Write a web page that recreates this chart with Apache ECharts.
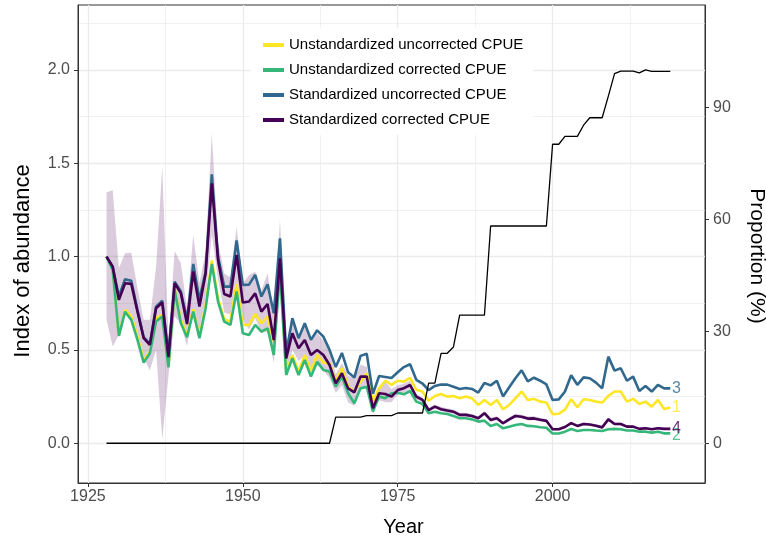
<!DOCTYPE html>
<html><head><meta charset="utf-8">
<script src="https://cdn.jsdelivr.net/npm/echarts@6/dist/echarts.min.js"></script>
<style>html,body{margin:0;padding:0;background:#fff}#c{width:766px;height:540px}</style>
</head><body><div id="c"></div>
<script>
const years = [1928,1929,
 1930,1931,1932,1933,1934,1935,1936,1937,1938,1939,
 1940,1941,1942,1943,1944,1945,1946,1947,1948,1949,
 1950,1951,1952,1953,1954,1955,1956,1957,1958,1959,
 1960,1961,1962,1963,1964,1965,1966,1967,1968,1969,
 1970,1971,1972,1973,1974,1975,1976,1977,1978,1979,
 1980,1981,1982,1983,1984,1985,1986,1987,1988,1989,
 1990,1991,1992,1993,1994,1995,1996,1997,1998,1999,
 2000,2001,2002,2003,2004,2005,2006,2007,2008,2009,
 2010,2011,2012,2013,2014,2015,2016,2017,2018,2019];

const unstdUncorr = [1.0,0.935,
 0.58,0.714,0.679,0.571,0.446,0.49,0.67,0.688,0.41,0.83,
 0.66,0.58,0.718,0.571,0.741,0.979,0.777,0.664,0.652,0.854,
 0.634,0.634,0.693,0.643,0.679,0.545,0.96,0.378,0.473,0.384,
 0.473,0.384,0.473,0.432,0.428,0.33,0.402,0.303,0.277,0.33,
 0.375,0.223,0.294,0.335,0.313,0.335,0.33,0.35,0.286,0.277,
 0.228,0.253,0.264,0.25,0.253,0.241,0.25,0.241,0.205,0.232,
 0.205,0.232,0.182,0.205,0.241,0.277,0.232,0.238,0.223,0.218,
 0.156,0.158,0.18,0.236,0.193,0.236,0.232,0.223,0.218,0.254,
 0.277,0.277,0.223,0.238,0.21,0.223,0.196,0.232,0.184,0.191];

const unstdCorr = [1.0,0.929,
 0.575,0.705,0.661,0.554,0.432,0.482,0.652,0.679,0.407,0.821,
 0.643,0.568,0.705,0.563,0.723,0.961,0.759,0.652,0.634,0.813,
 0.589,0.58,0.634,0.598,0.616,0.473,0.93,0.366,0.455,0.366,
 0.446,0.357,0.437,0.393,0.384,0.303,0.357,0.268,0.214,0.294,
 0.303,0.17,0.25,0.241,0.268,0.27,0.262,0.28,0.223,0.21,
 0.161,0.169,0.161,0.157,0.146,0.134,0.134,0.128,0.116,0.121,
 0.093,0.103,0.08,0.089,0.098,0.103,0.093,0.091,0.086,0.083,
 0.052,0.052,0.062,0.076,0.066,0.071,0.071,0.068,0.066,0.075,
 0.077,0.075,0.068,0.068,0.062,0.062,0.057,0.062,0.053,0.053];

const stdUncorr = [1.0,0.946,
 0.786,0.879,0.871,0.714,0.568,0.532,0.732,0.764,0.473,0.866,
 0.813,0.661,0.961,0.768,0.92,1.441,1.0,0.839,0.839,1.086,
 0.848,0.85,0.902,0.786,0.852,0.696,1.098,0.482,0.67,0.563,
 0.643,0.554,0.605,0.571,0.5,0.408,0.484,0.38,0.352,0.468,
 0.48,0.265,0.36,0.355,0.35,0.38,0.408,0.423,0.34,0.32,
 0.285,0.307,0.315,0.314,0.303,0.291,0.296,0.291,0.271,0.323,
 0.31,0.335,0.251,0.3,0.348,0.391,0.332,0.351,0.335,0.315,
 0.232,0.235,0.277,0.364,0.313,0.353,0.348,0.325,0.294,0.464,
 0.389,0.402,0.335,0.357,0.28,0.307,0.277,0.313,0.294,0.294];

const stdCorr = [1.0,0.946,
 0.768,0.857,0.854,0.705,0.563,0.527,0.723,0.754,0.461,0.857,
 0.804,0.639,0.92,0.732,0.91,1.393,0.982,0.8,0.786,1.009,
 0.754,0.759,0.803,0.705,0.746,0.553,0.991,0.455,0.589,0.509,
 0.553,0.473,0.5,0.473,0.419,0.321,0.375,0.294,0.273,0.357,
 0.357,0.187,0.268,0.264,0.25,0.285,0.295,0.312,0.25,0.232,
 0.178,0.196,0.182,0.175,0.169,0.152,0.152,0.146,0.134,0.161,
 0.125,0.134,0.107,0.128,0.146,0.142,0.132,0.133,0.126,0.12,
 0.075,0.075,0.087,0.108,0.093,0.103,0.1,0.094,0.085,0.128,
 0.103,0.103,0.089,0.089,0.077,0.08,0.075,0.08,0.077,0.077];

const ciLower = [0.661,0.518,
 0.58,0.7,0.69,0.58,0.46,0.39,0.5,0.02,0.36,0.68,
 0.64,0.52,0.72,0.6,0.78,1.12,0.88,0.7,0.69,0.86,
 0.66,0.61,0.67,0.59,0.6,0.43,0.82,0.38,0.5,0.44,
 0.47,0.39,0.42,0.39,0.35,0.27,0.31,0.22,0.2,0.3,
 0.31,0.16,0.23,0.22,0.22,0.26,0.27,0.29,0.235,0.22,
 0.168,0.185,0.171,0.164,0.158,0.142,0.142,0.136,0.124,0.15,
 0.115,0.124,0.098,0.118,0.136,0.132,0.122,0.123,0.117,0.111,
 0.068,0.068,0.08,0.1,0.086,0.096,0.093,0.087,0.078,0.119,
 0.096,0.096,0.082,0.082,0.071,0.074,0.069,0.074,0.071,0.071];

const ciUpper = [1.343,1.357,
 0.938,1.018,1.021,0.83,0.661,0.661,0.946,1.48,0.56,1.03,
 0.964,0.72,1.116,0.857,1.027,1.66,1.08,0.91,0.89,1.16,
 0.857,0.9,0.92,0.82,0.91,0.7,1.196,0.53,0.66,0.57,
 0.63,0.55,0.59,0.55,0.49,0.37,0.43,0.36,0.35,0.42,
 0.41,0.21,0.3,0.33,0.29,0.31,0.32,0.335,0.265,0.245,
 0.189,0.208,0.194,0.187,0.181,0.163,0.163,0.157,0.145,0.173,
 0.136,0.145,0.117,0.139,0.157,0.153,0.143,0.144,0.136,0.13,
 0.083,0.083,0.095,0.117,0.101,0.111,0.108,0.102,0.093,0.138,
 0.111,0.111,0.097,0.097,0.084,0.087,0.082,0.087,0.084,0.084];

const proportion = [0,0,
 0,0,0,0,0,0,0,0,0,0,
 0,0,0,0,0,0,0,0,0,0,
 0,0,0,0,0,0,0,0,0,0,
 0,0,0,0,0,7.0,7.0,7.0,7.0,7.0,
 7.4,7.4,7.4,7.4,7.4,8.1,8.1,8.1,8.1,8.1,
 16.1,16.1,24.1,24.1,25.8,34.3,34.3,34.3,34.3,34.3,
 58.2,58.2,58.2,58.2,58.2,58.2,58.2,58.2,58.2,58.2,
 80.1,80.1,82.2,82.2,82.2,85.2,87.2,87.2,87.2,93.0,
 99.0,99.7,99.7,99.7,99.2,100,99.6,99.6,99.6,99.6];

const seriesNames = ['Unstandardized uncorrected CPUE','Unstandardized corrected CPUE','Standardized uncorrected CPUE','Standardized corrected CPUE'];
const endLabelTexts = ['1','2','3','4'];
const endLabelX = 2020;
const xTicks = [1925,1950,1975,2000];
const xMinorTicks = [1937.5,1962.5,1987.5,2012.5];
const yTicks = [0,0.5,1.0,1.5,2.0];
const yMinorTicks = [0.25,0.75,1.25,1.75,2.25];
const pTicks = [0,30,60,90];

const colors = ['#FDE725','#35B779','#31688E','#440154'];
const FONT = "'Liberation Sans', Arial, Helvetica, sans-serif";
const X_MIN = 1923.4, X_MAX = 2024.6, Y_MIN = -0.213, Y_MAX = 2.348, P_SCALE = 50;

const seriesData = [unstdUncorr, unstdCorr, stdUncorr, stdCorr];
const pair = (arr) => years.map((y, i) => [y, arr[i]]);

const chart = echarts.init(document.getElementById('c'), null, {renderer: 'canvas'});

const lineSeries = seriesData.map((arr, k) => ({
  type: 'line', name: seriesNames[k], data: pair(arr),
  xAxisIndex: 0, yAxisIndex: 0,
  showSymbol: false, symbol: 'none',
  lineStyle: {color: colors[k], width: 2.6},
  itemStyle: {color: colors[k]},
  z: 3 + k, animation: false, silent: true
}));

const tickFont = {color: '#4d4d4d', fontSize: 16, fontFamily: FONT};

const option = {
  animation: false,
  backgroundColor: '#fff',
  grid: {left: 78, right: 61, top: 5, bottom: 57, show: true, borderColor: '#333', borderWidth: 1,
         backgroundColor: '#fff', containLabel: false, outerBoundsMode: 'none'},
  legend: {
    orient: 'vertical', left: 250, top: 28, padding: [8, 10, 6, 13],
    backgroundColor: '#fff', icon: 'rect', itemWidth: 21, itemHeight: 4, itemGap: 7,
    textStyle: {fontSize: 15, lineHeight: 18, color: '#000', fontFamily: FONT},
    data: seriesNames, selectedMode: false
  },
  xAxis: [
    {type: 'value', position: 'bottom', min: X_MIN, max: X_MAX,
     axisLine: {show: true, onZero: false, lineStyle: {color: '#333', width: 1}},
     axisTick: {show: true, customValues: xTicks, length: 4, lineStyle: {color: '#333'}},
     axisLabel: Object.assign({show: true, customValues: xTicks, margin: 6, formatter: v => String(v)}, tickFont),
     splitLine: {show: true, lineStyle: {color: '#ebebeb', width: 1.3}},
     name: 'Year', nameLocation: 'middle', nameGap: 34,
     nameTextStyle: {fontSize: 20, color: '#000', fontFamily: FONT, padding: [0, 0, 0, 24]}},
    {type: 'value', position: 'bottom', min: X_MIN, max: X_MAX,
     axisLine: {show: false}, axisTick: {show: false, customValues: xMinorTicks},
     axisLabel: {show: false, customValues: xMinorTicks},
     splitLine: {show: true, lineStyle: {color: '#ebebeb', width: 0.7}}}
  ],
  yAxis: [
    {type: 'value', position: 'left', min: Y_MIN, max: Y_MAX,
     axisLine: {show: true, onZero: false, lineStyle: {color: '#333', width: 1}},
     axisTick: {show: true, customValues: yTicks, length: 4, lineStyle: {color: '#333'}},
     axisLabel: Object.assign({show: true, customValues: yTicks, margin: 8, formatter: v => v.toFixed(1)}, tickFont),
     splitLine: {show: true, lineStyle: {color: '#ebebeb', width: 1.3}},
     name: 'Index of abundance', nameLocation: 'middle', nameGap: 44, nameRotate: 90,
     nameTextStyle: {fontSize: 22, color: '#000', fontFamily: FONT, padding: [0, 34, 0, 0]}},
    {type: 'value', position: 'right', min: Y_MIN * P_SCALE, max: Y_MAX * P_SCALE,
     axisLine: {show: true, onZero: false, lineStyle: {color: '#333', width: 1}},
     axisTick: {show: true, customValues: pTicks, length: 4, lineStyle: {color: '#333'}},
     axisLabel: Object.assign({show: true, customValues: pTicks, margin: 8}, tickFont),
     splitLine: {show: false},
     name: 'Proportion (%)', nameLocation: 'middle', nameGap: 41, nameRotate: -90,
     nameTextStyle: {fontSize: 21, color: '#000', fontFamily: FONT, padding: [0, 0, 0, 24]}},
    {type: 'value', position: 'left', min: Y_MIN, max: Y_MAX,
     axisLine: {show: false}, axisTick: {show: false, customValues: yMinorTicks},
     axisLabel: {show: false, customValues: yMinorTicks},
     splitLine: {show: true, lineStyle: {color: '#ebebeb', width: 0.7}}}
  ],
  series: [
    {type: 'custom', name: 'ci', xAxisIndex: 0, yAxisIndex: 0, z: 2, silent: true,
     data: years.map((y, i) => [y, ciLower[i], ciUpper[i]]),
     encode: {x: 0, y: [1, 2]},
     renderItem: function (params, api) {
       if (params.dataIndex !== 0) return null;
       const pts = [];
       for (let i = 0; i < years.length; i++) pts.push(api.coord([years[i], ciUpper[i]]));
       for (let i = years.length - 1; i >= 0; i--) pts.push(api.coord([years[i], ciLower[i]]));
       return {type: 'polygon', shape: {points: pts}, style: {fill: 'rgba(68,1,84,0.2)'}};
     }},
    ...lineSeries,
    {type: 'line', name: 'proportion', data: pair(proportion), xAxisIndex: 0, yAxisIndex: 1,
     showSymbol: false, symbol: 'none', lineStyle: {color: '#000', width: 1.3}, itemStyle: {color: '#000'},
     z: 8, silent: true},
    {type: 'scatter', name: 'labels', xAxisIndex: 0, yAxisIndex: 0, z: 9, silent: true,
     symbolSize: 1, itemStyle: {color: 'rgba(0,0,0,0)'},
     data: seriesData.map((arr, k) => ({
       value: [endLabelX, arr[arr.length - 1]],
       label: {show: true, formatter: endLabelTexts[k], position: 'inside', color: colors[k],
               fontSize: 16, fontFamily: FONT, offset: k === 1 ? [0, 2] : [0, 0]}
     }))}
  ]
};
chart.setOption(option);
</script></body></html>
